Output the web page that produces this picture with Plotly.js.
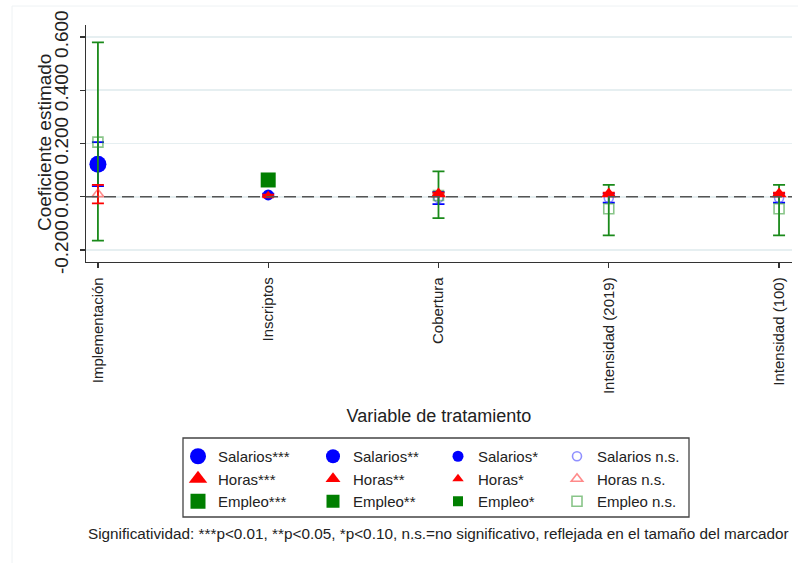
<!DOCTYPE html>
<html><head><meta charset="utf-8">
<script src="https://cdn.plot.ly/plotly-3.0.1.min.js"></script>
<style>html,body{margin:0;padding:0;background:#fff}</style>
</head><body><div id="chart" style="width:798px;height:563px"></div>
<script>
// ---- data ----
const categories = ['Implementación', 'Inscriptos', 'Cobertura', 'Intensidad (2019)', 'Intensidad (100)'];

const salariosCoef = [0.122, 0.007, -0.005, -0.005, -0.005];
const salariosLo   = [0.040, 0.002, -0.028, -0.022, -0.022];
const salariosHi   = [0.205, 0.012, 0.018, 0.012, 0.012];
const salariosSig  = [3, 1, 0, 0, 0];

const horasCoef = [0.010, 0.004, 0.010, 0.010, 0.010];
const horasLo   = [-0.025, 0.000, 0.005, 0.005, 0.005];
const horasHi   = [0.045, 0.008, 0.015, 0.015, 0.015];
const horasSig  = [0, 1, 2, 2, 2];

const empleoCoef = [0.205, 0.063, 0.005, -0.045, -0.045];
const empleoLo   = [-0.165, 0.058, -0.080, -0.145, -0.145];
const empleoHi   = [0.580, 0.068, 0.095, 0.045, 0.045];
const empleoSig  = [0, 3, 0, 0, 0];

const sigLevels = [3, 2, 1, 0];
const sigSuffix = ['***', '**', '*', ' n.s.'];

const yTickVals = [-0.2, 0, 0.2, 0.4, 0.6];
const yTickText = ['-0.200', '0.000', '0.200', '0.400', '0.600'];

const yTitle = 'Coeficiente estimado';
const xTitle = 'Variable de tratamiento';
const footnote = 'Significatividad: ***p<0.01, **p<0.05, *p<0.10, n.s.=no significativo, reflejada en el tamaño del marcador';

// ---- styles ----
const FONT = 'Liberation Sans, Arial, sans-serif';
const W = 798, H = 563;
const M = {l: 86, r: 6, t: 25, b: 301};
const PW = W - M.l - M.r, PH = H - M.t - M.b;
const px = v => (v - M.l) / PW;
const py = v => (H - M.b - v) / PH;

const outcomes = [
  {name: 'Salarios', coef: salariosCoef, lo: salariosLo, hi: salariosHi, sig: salariosSig,
   color: '#0000ff', open: 'rgba(70,70,255,0.6)', sym: 'circle', sizes: {3: 17, 2: 14, 1: 11, 0: 9}, rank: 1},
  {name: 'Empleo', coef: empleoCoef, lo: empleoLo, hi: empleoHi, sig: empleoSig,
   color: '#007f00', open: 'rgba(40,150,40,0.55)', sym: 'square', sizes: {3: 15, 2: 13, 1: 10, 0: 10}, rank: 3},
  {name: 'Horas', coef: horasCoef, lo: horasLo, hi: horasHi, sig: horasSig,
   color: '#ff0000', open: 'rgba(255,60,60,0.6)', sym: 'triangle-up', sizes: {3: 16, 2: 13, 1: 10, 0: 10}, rank: 2},
];
const errColor = {Salarios: '#0000ff', Horas: '#ff0000', Empleo: '#1a8a1a'};

const traces = [];
outcomes.forEach(o => {
  sigLevels.forEach((lvl, k) => {
    const y = o.coef.map((v, i) => o.sig[i] === lvl ? v : null);
    const ep = o.coef.map((v, i) => o.sig[i] === lvl ? o.hi[i] - v : null);
    const em = o.coef.map((v, i) => o.sig[i] === lvl ? v - o.lo[i] : null);
    const isOpen = lvl === 0;
    traces.push({
      type: 'scatter', mode: 'markers',
      x: categories, y: y,
      name: o.name + sigSuffix[k],
      legend: k === 0 ? 'legend' : 'legend' + (k + 1),
      legendrank: o.rank,
      marker: {
        symbol: isOpen ? o.sym + '-open' : o.sym,
        size: o.sizes[lvl],
        color: isOpen ? o.open : o.color,
        line: {width: isOpen ? 1.6 : 0, color: isOpen ? o.open : o.color}
      },
      error_y: {type: 'data', symmetric: false, array: ep, arrayminus: em,
                color: errColor[o.name], thickness: 1.8, width: 6},
      hoverinfo: 'skip'
    });
  });
});

const legendX = [178, 313, 438, 557];
const legendBase = {
  y: py(440), xanchor: 'left', yanchor: 'top', orientation: 'v',
  bgcolor: 'rgba(0,0,0,0)', borderwidth: 0, tracegroupgap: 0,
  traceorder: 'normal', font: {family: FONT, size: 15, color: '#222'}
};
const layout = {
  width: W, height: H,
  margin: M,
  paper_bgcolor: '#fff', plot_bgcolor: '#fff',
  font: {family: FONT, color: '#222'},
  showlegend: true,
  xaxis: {
    type: 'category', range: [-0.07, 4.076],
    showgrid: false, zeroline: false,
    showline: true, linecolor: '#333', linewidth: 1.3,
    ticks: 'outside', ticklen: 5, tickcolor: '#333', tickwidth: 1.3,
    tickangle: -90, ticklabelstandoff: 3, tickfont: {family: FONT, size: 15, color: '#222'},
    title: {text: xTitle, font: {family: FONT, size: 18, color: '#222'}, standoff: 16}
  },
  yaxis: {
    range: [-0.245, 0.645],
    tickvals: yTickVals, ticktext: yTickText,
    showgrid: true, gridcolor: '#e6eff1', gridwidth: 1.5, zeroline: false,
    showline: true, linecolor: '#333', linewidth: 1.3,
    ticks: 'outside', ticklen: 5, tickcolor: '#333', tickwidth: 1.3,
    tickangle: -90, ticklabelstandoff: 4,
    tickfont: {family: FONT, size: 19, color: '#222'}
  },
  shapes: [
    {type: 'line', xref: 'paper', yref: 'y', x0: 0, x1: 1, y0: 0, y1: 0,
     line: {color: '#555', width: 1.6, dash: '12px,6px'}},
    {type: 'rect', xref: 'paper', yref: 'paper', x0: px(183), x1: px(689), y0: py(438), y1: py(517),
     line: {color: '#444', width: 1.3}, fillcolor: 'rgba(0,0,0,0)', layer: 'below'},
    {type: 'rect', xref: 'paper', yref: 'paper', x0: px(12), x1: px(810), y0: py(6), y1: py(575),
     line: {color: '#eef2f4', width: 1}, fillcolor: 'rgba(0,0,0,0)', layer: 'below'}
  ],
  annotations: [
    {text: yTitle, xref: 'paper', yref: 'paper', x: px(44), y: py(143), textangle: -90,
     xanchor: 'center', yanchor: 'middle', showarrow: false,
     font: {family: FONT, size: 19, color: '#222'}},
    {text: footnote, xref: 'paper', yref: 'paper', x: px(438), y: py(533),
     xanchor: 'center', yanchor: 'middle', showarrow: false,
     font: {family: 'Liberation Sans Narrow, Arial Narrow, sans-serif', size: 15.3, color: '#222'}}
  ]
};
['legend', 'legend2', 'legend3', 'legend4'].forEach((k, i) => {
  layout[k] = Object.assign({}, legendBase, {x: px(legendX[i])});
});

Plotly.newPlot('chart', traces, layout, {staticPlot: true, displayModeBar: false});
</script>
</body></html>
